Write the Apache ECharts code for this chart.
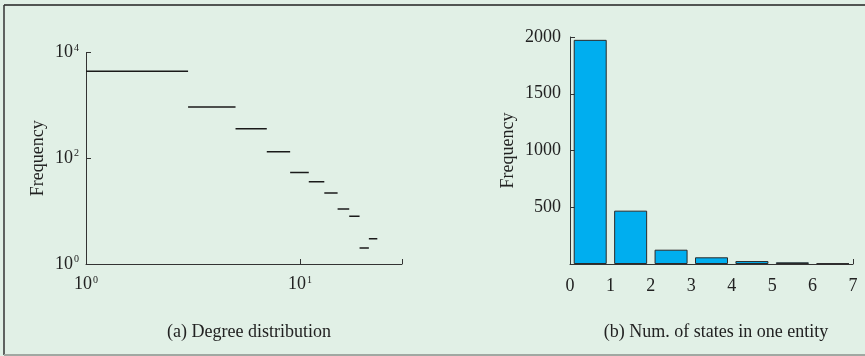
<!DOCTYPE html>
<html>
<head>
<meta charset="utf-8">
<script src="https://cdn.jsdelivr.net/npm/echarts@6/dist/echarts.min.js"></script>
<style>
  html, body { margin: 0; padding: 0; background: #e1f0e6; }
  #chart { width: 865px; height: 356px; }
</style>
</head>
<body>
<div id="chart"></div>
<script>
// (a) degree distribution: horizontal step per bin [edge_i, edge_i+1]
const degreeBinEdges = [1, 3, 5, 7, 9, 11, 13, 15, 17, 19, 21, 23];
const degreeFreq = [4460, 940, 365, 134, 54, 36, 22, 11, 8, 2, 3];

// (b) number of states per entity
const stateCounts = [0, 1, 2, 3, 4, 5, 6];
const stateFreq = [1975, 470, 126, 59, 26, 15, 6];

const FONT = 'Liberation Serif';
const INK = '#222';
const FS = 18;

function powLabel(v) {
  const e = Math.log10(v);
  if (Math.abs(e - Math.round(e)) > 1e-6) return '';
  return '{b|10}{s|' + Math.round(e) + '}';
}
const powRich = {
  b: { fontFamily: FONT, fontSize: FS, color: INK, lineHeight: 19 },
  s: { fontFamily: FONT, fontSize: 10, color: INK, verticalAlign: 'top', lineHeight: 19, padding: [0, 0, 0, 1] }
};

const stepSeries = degreeFreq.map((v, i) => ({
  type: 'line',
  xAxisIndex: 0,
  yAxisIndex: 0,
  data: [[degreeBinEdges[i], v], [degreeBinEdges[i + 1], v]],
  showSymbol: false,
  symbol: 'none',
  lineStyle: { color: '#1a1a1a', width: 1.5 },
  silent: true,
  animation: false
}));

const axisLineStyle = { lineStyle: { color: '#333', width: 1 } };
const innerTick = { inside: true, length: 5, lineStyle: { color: '#333' } };
const textStyle = { fontFamily: FONT, fontSize: FS, color: INK };

const option = {
  backgroundColor: '#e1f0e6',
  animation: false,
  title: [
    { text: '(a) Degree distribution', left: 244, top: 318, textAlign: 'center',
      textStyle: Object.assign({ fontWeight: 'normal' }, textStyle) },
    { text: '(b) Num. of states in one entity', left: 711, top: 318, textAlign: 'center',
      textStyle: Object.assign({ fontWeight: 'normal' }, textStyle) }
  ],
  grid: [
    { left: 86, top: 52.7, width: 316, height: 211.3 },
    { left: 570, top: 37, width: 283, height: 227 }
  ],
  xAxis: [
    {
      gridIndex: 0, type: 'log', logBase: 10, min: 1, max: 30,
      axisLine: axisLineStyle,
      axisTick: innerTick,
      splitLine: { show: false },
      minorTick: { show: false },
      axisLabel: { formatter: powLabel, rich: powRich, margin: 11 }
    },
    {
      gridIndex: 1, type: 'value', position: 'bottom', min: 0, max: 7, interval: 1,
      axisLine: axisLineStyle,
      axisTick: { show: false },
      splitLine: { show: false },
      axisLabel: Object.assign({ margin: 13 }, textStyle)
    },
    {
      // end-of-axis tick marks only
      gridIndex: 1, type: 'value', position: 'bottom', offset: 0, min: 0, max: 7, interval: 7,
      axisLine: { show: false },
      axisTick: innerTick,
      axisLabel: { show: false },
      splitLine: { show: false }
    }
  ],
  yAxis: [
    {
      gridIndex: 0, type: 'log', logBase: 100, min: 1, max: 10000,
      name: 'Frequency', nameLocation: 'middle', nameGap: 39, nameRotate: 90,
      nameTextStyle: textStyle,
      axisLine: axisLineStyle,
      axisTick: innerTick,
      splitLine: { show: false },
      axisLabel: { formatter: powLabel, rich: powRich, margin: 7 }
    },
    {
      gridIndex: 1, type: 'value', min: 0, max: 2000, interval: 500,
      name: 'Frequency', nameLocation: 'middle', nameGap: 53, nameRotate: 90,
      nameTextStyle: textStyle,
      axisLine: axisLineStyle,
      axisTick: innerTick,
      splitLine: { show: false },
      axisLabel: Object.assign({
        margin: 9,
        formatter: v => (v === 0 ? '' : String(v))
      }, textStyle)
    }
  ],
  series: stepSeries.concat([
    {
      type: 'bar',
      xAxisIndex: 1,
      yAxisIndex: 1,
      barWidth: 33,
      data: stateCounts.map((k, i) => [k + 0.5, stateFreq[i]]),
      itemStyle: { color: '#00aeef', borderColor: '#2a2a2a', borderWidth: 1 },
      silent: true
    }
  ]),
  graphic: [
    { type: 'line', shape: { x1: 4, y1: 5, x2: 865, y2: 5 }, style: { stroke: '#222', lineWidth: 1.5 }, silent: true },
    { type: 'line', shape: { x1: 4, y1: 5, x2: 4, y2: 355 }, style: { stroke: '#333', lineWidth: 1.5 }, silent: true },
    { type: 'line', shape: { x1: 4, y1: 355, x2: 865, y2: 355 }, style: { stroke: '#a0a8a2', lineWidth: 2 }, silent: true }
  ]
};

const chart = echarts.init(document.getElementById('chart'), null, { renderer: 'canvas' });
chart.setOption(option);
</script>
</body>
</html>
